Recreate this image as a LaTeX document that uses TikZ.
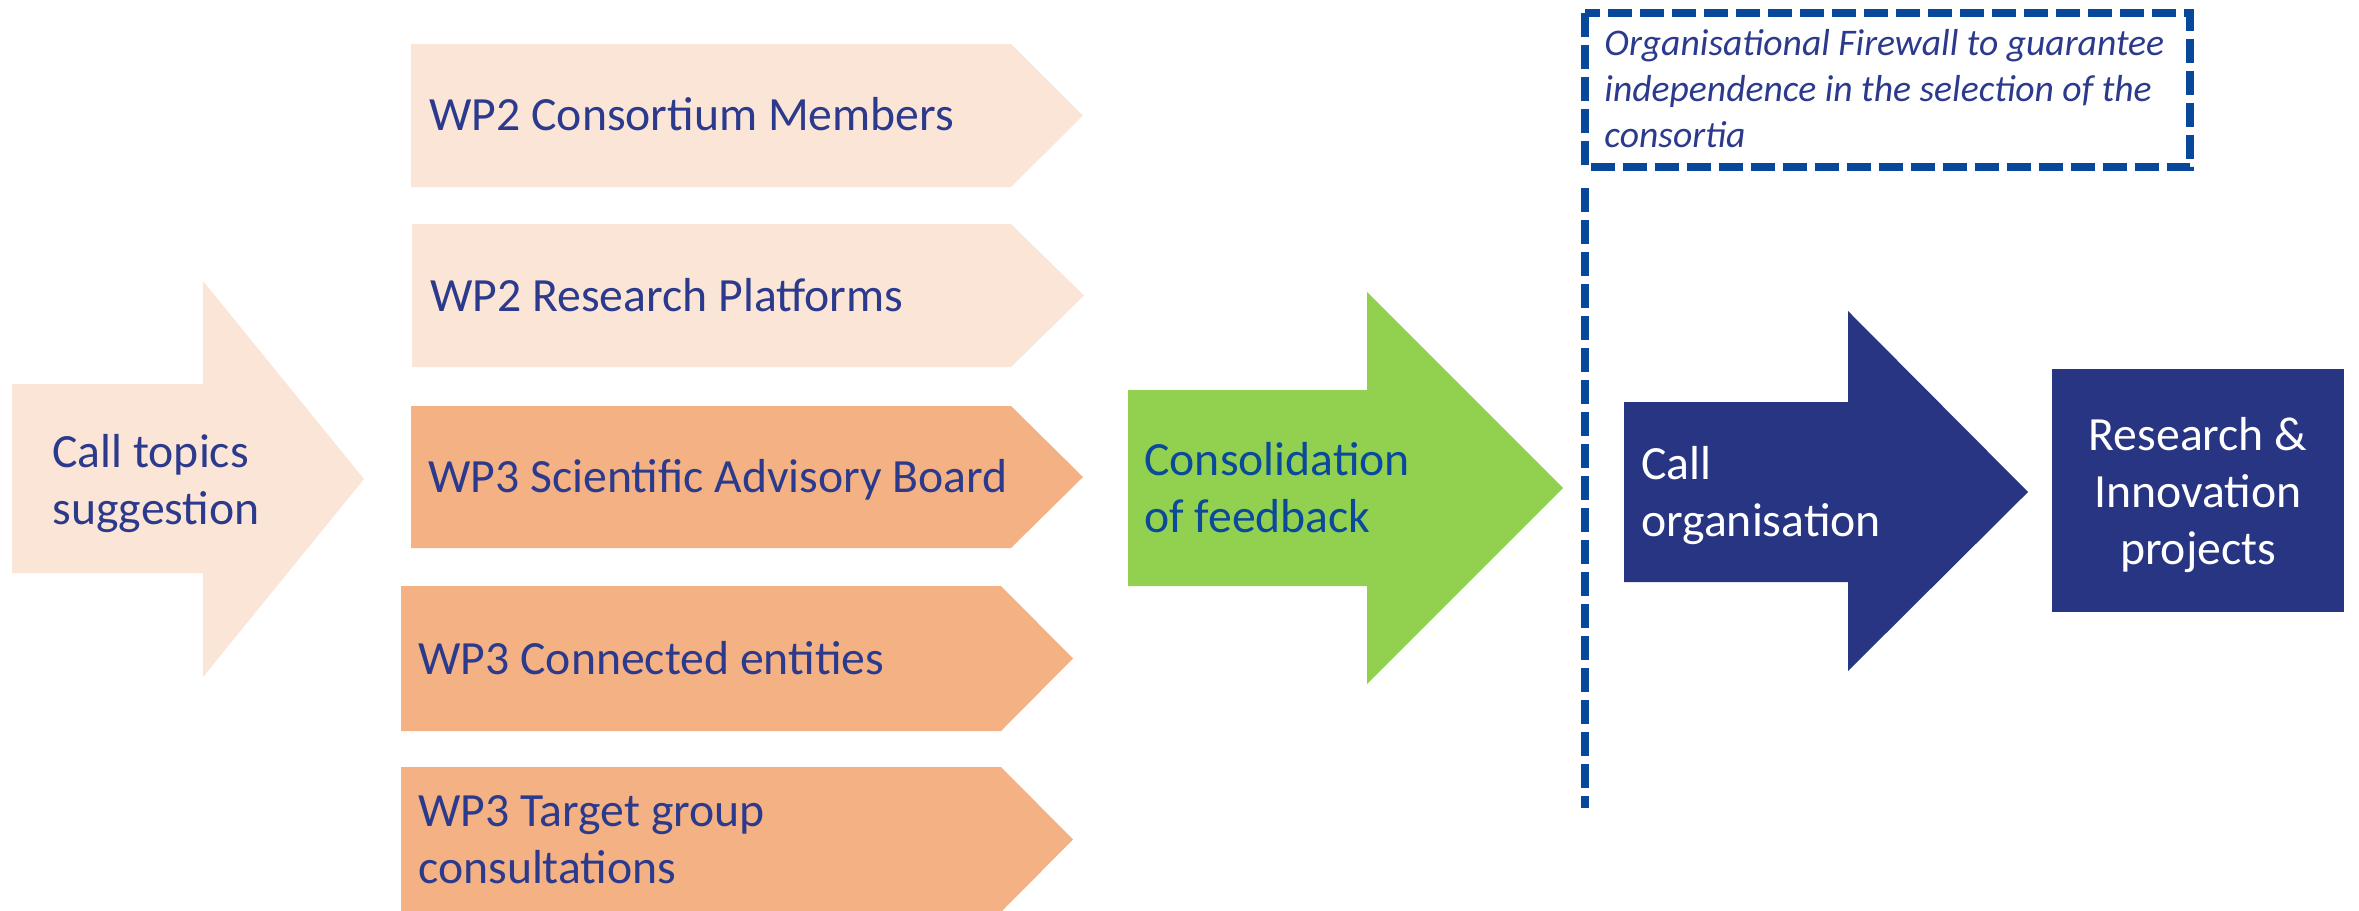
\documentclass[tikz,border=0pt]{standalone}
\usepackage{fontspec}
\setmainfont{Carlito}
\definecolor{peach}{HTML}{FBE5D6}
\definecolor{orng}{HTML}{F4B183}
\definecolor{grn}{HTML}{92D050}
\definecolor{navy}{HTML}{283583}
\definecolor{navytxt}{HTML}{2B3A8C}
\definecolor{dblue}{HTML}{0B4A9B}
\definecolor{fwblue}{HTML}{07489A}
\tikzset{
  lbl/.style={inner sep=0pt, text=navytxt, font=\fontsize{23.85}{28.5}\selectfont, anchor=base west},
  fwline/.style={draw=fwblue, line width=4pt, dash pattern=on 12pt off 4pt},
}
\begin{document}
\begin{tikzpicture}[x=0.5pt,y=-0.5pt]
\useasboundingbox (0,0) rectangle (2359,910);
% call topics arrow
\fill[peach] (12,384) -- (203,384) -- (203,281) -- (364,479) -- (203,677) -- (203,573) -- (12,573) -- cycle;
\node[lbl] (ct) at (52,467) {\vtop{\hbox{Call topics}\hbox{suggestion}}};
% WP boxes
\fill[peach] (411,44) -- (1011,44) -- (1083,115.5) -- (1011,187) -- (411,187) -- cycle;
\node[lbl] (cm) at (429,130) {WP2 Consortium Members};
\fill[peach] (412,224) -- (1011,224) -- (1084,295.5) -- (1011,367) -- (412,367) -- cycle;
\node[lbl] (rp) at (430,311) {WP2 Research Platforms};
\fill[orng] (411,406) -- (1011,406) -- (1083,477) -- (1011,548) -- (411,548) -- cycle;
\node[lbl] (sab) at (428,492) {WP3 Scientific Advisory Board};
\fill[orng] (401,586) -- (1001,586) -- (1073,658.5) -- (1001,731) -- (401,731) -- cycle;
\node[lbl] (ce) at (418,674) {WP3 Connected entities};
\fill[orng] (401,767) -- (1001,767) -- (1073,839.5) -- (1001,912) -- (401,912) -- cycle;
\node[lbl] (tg) at (418,826) {\vtop{\hbox{WP3 Target group}\hbox{consultations}}};
% consolidation arrow
\fill[grn] (1128,390) -- (1367,390) -- (1367,292) -- (1563,488) -- (1367,684) -- (1367,586) -- (1128,586) -- cycle;
\node[lbl, text=dblue] (cf) at (1144,475) {\vtop{\hbox{Consolidation}\hbox{of feedback}}};
% firewall
\draw[fwline] (1585,12.5) rectangle (2190,167);
\draw[fwline] (1585,188) -- (1585,808);
\node[inner sep=0pt, anchor=base west, text=navytxt, font=\fontsize{18.8}{23}\selectfont\itshape] (fw) at (1604,55)
  {\vtop{\hbox{Organisational Firewall to guarantee}\hbox{independence in the selection of the}\hbox{consortia}}};
% call organisation arrow
\fill[navy] (1624,402) -- (1848,402) -- (1848,311) -- (2028,492) -- (1848,671) -- (1848,582) -- (1624,582) -- cycle;
\node[lbl, text=white] (co) at (1641,479) {\vtop{\hbox{Call}\hbox{organisation}}};
% research box
\fill[navy] (2052,369) rectangle (2344,612);
\node[lbl, text=white, anchor=base] (ri) at (2198,450) {\vtop{\halign{\hfil#\hfil\cr Research \&\cr Innovation\cr projects\cr}}};
\end{tikzpicture}
\end{document}
